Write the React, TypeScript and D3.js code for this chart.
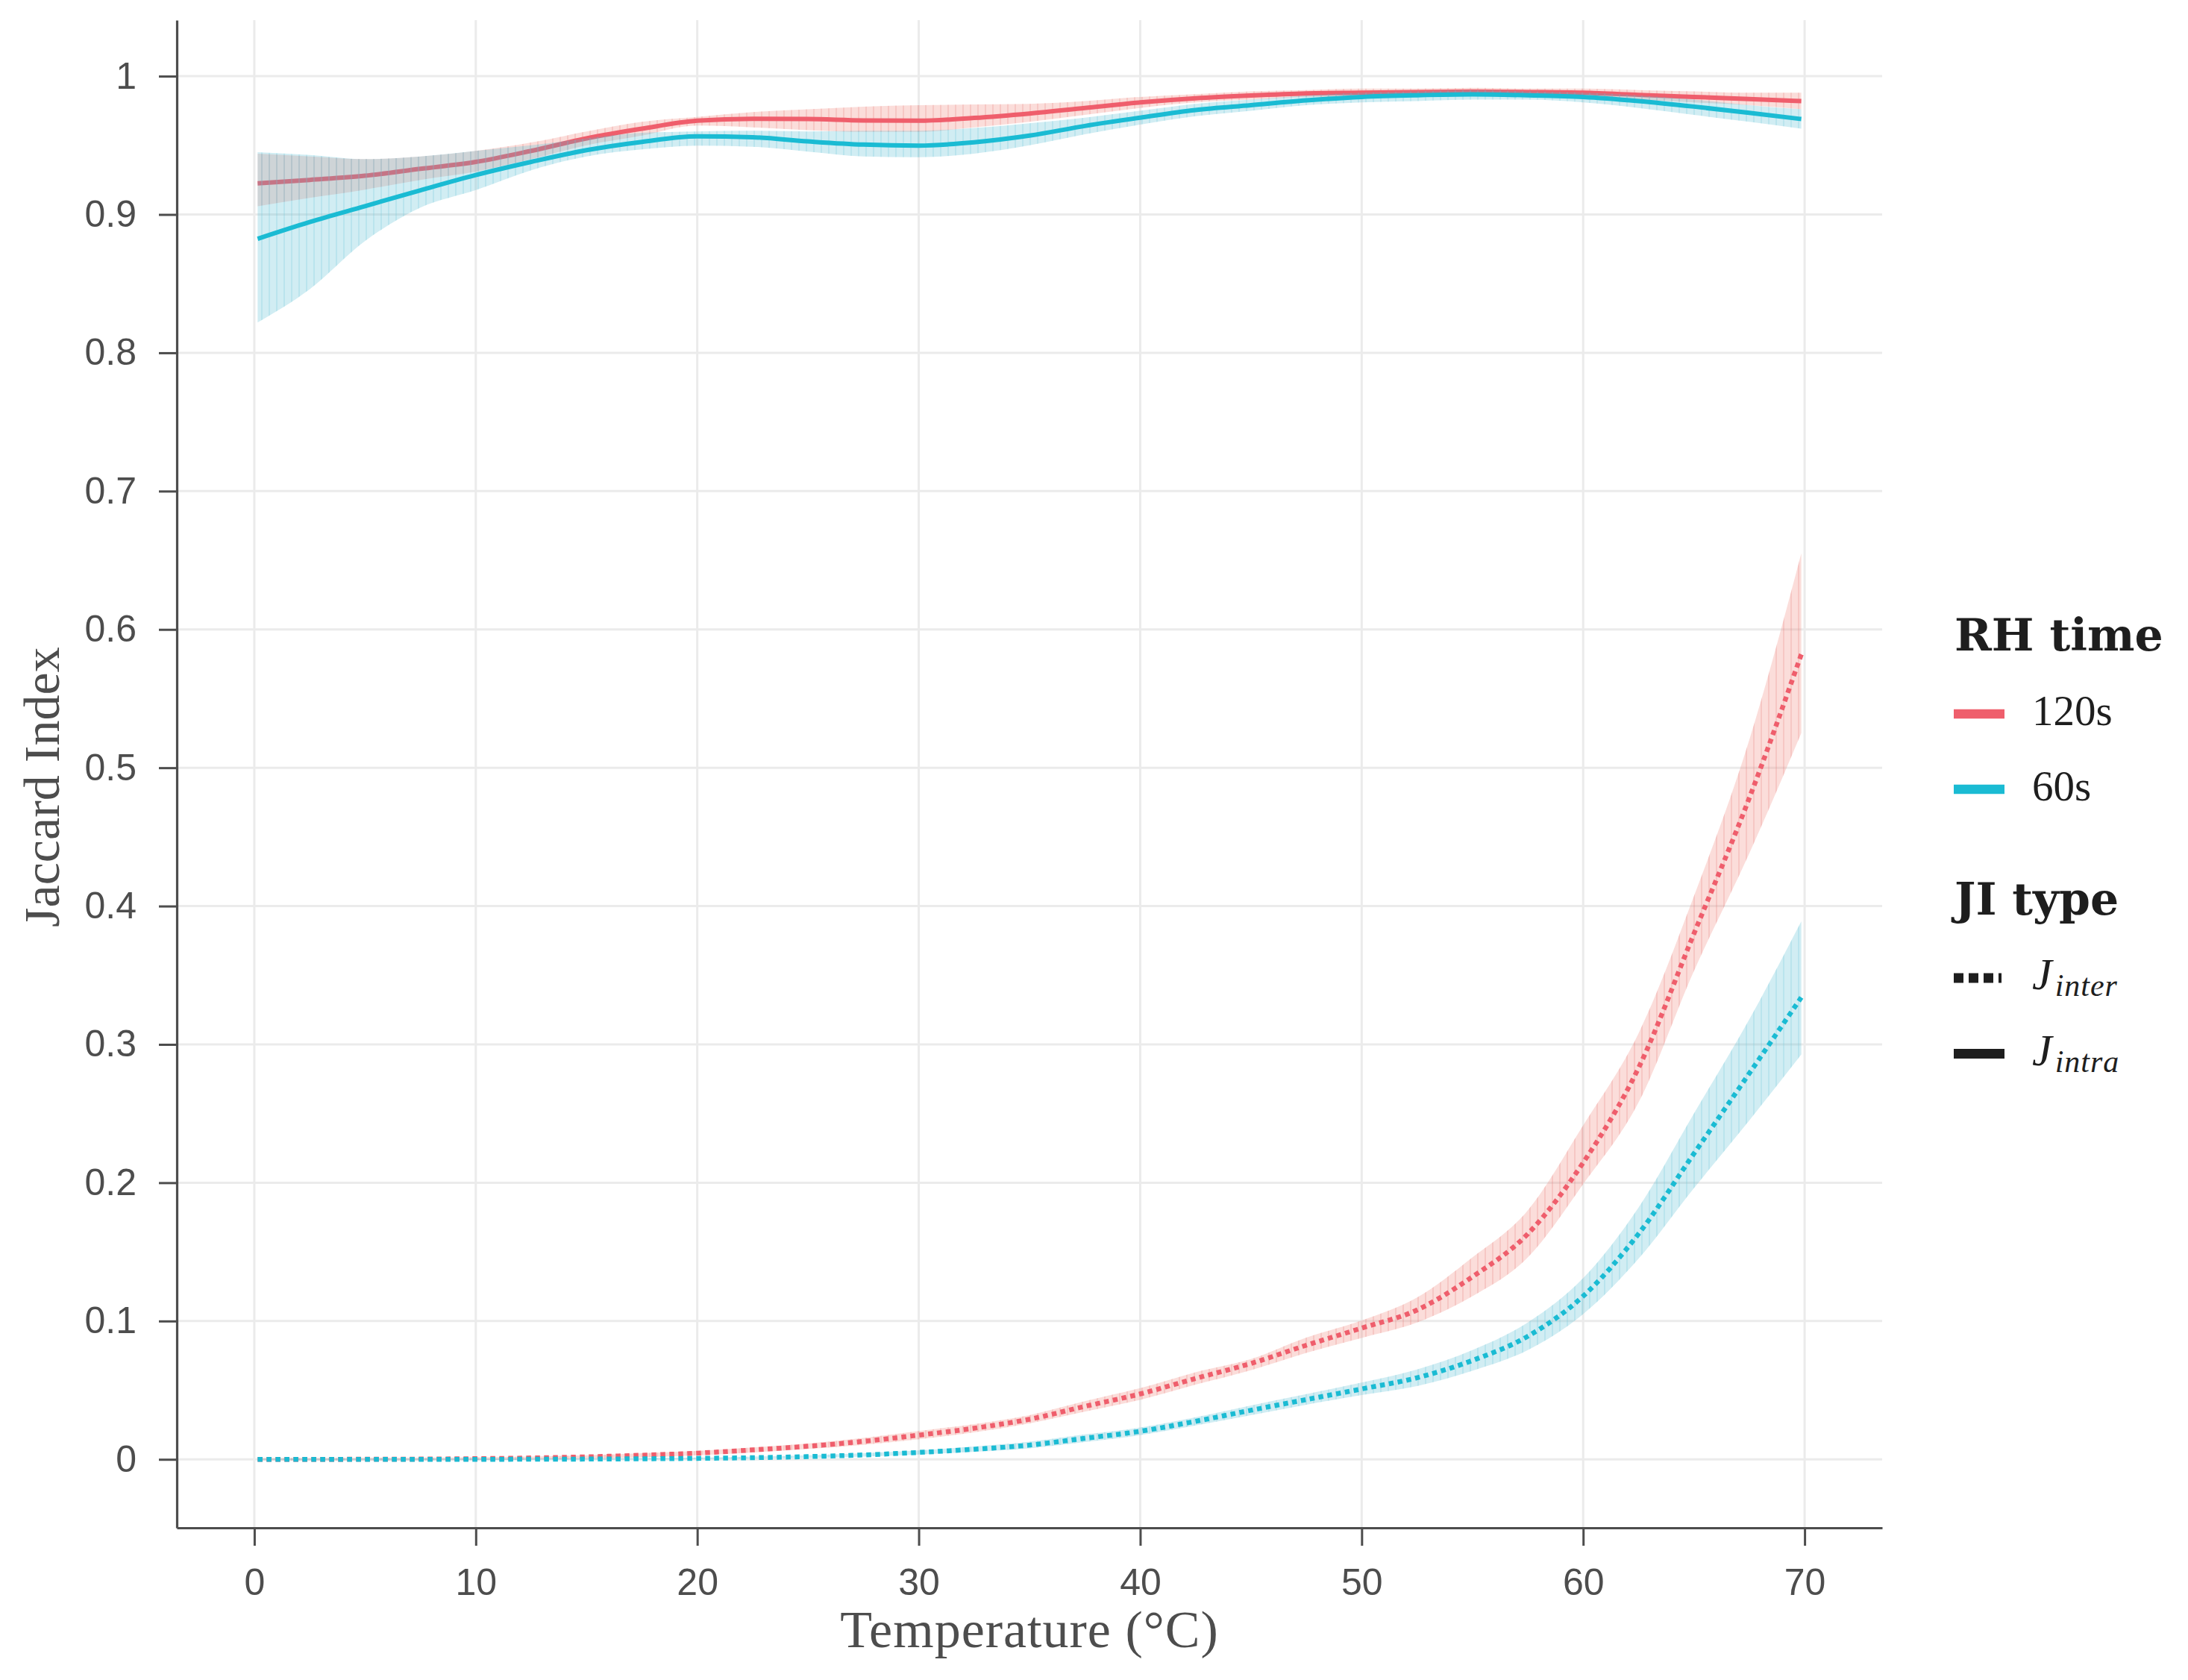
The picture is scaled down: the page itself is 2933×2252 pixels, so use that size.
import { useEffect, useRef } from 'react';
import * as d3 from 'd3';

// temperature grid shared by every fitted curve
const temperature = [
  0.15, 2.5, 5, 7.5, 10, 12.5, 15, 17.5, 20, 22.5, 25, 27.5, 30, 32.5, 35,
  37.5, 40, 42.5, 45, 47.5, 50, 52.5, 55, 57.5, 60, 62.5, 65, 67.5, 69.85,
];

// J_intra, RH 120s
const intra120 = [
  0.9225, 0.925, 0.928, 0.933, 0.938, 0.946, 0.955, 0.962, 0.9678, 0.9692, 0.969, 0.968, 0.9678, 0.9698, 0.973,
  0.977, 0.981, 0.984, 0.986, 0.9875, 0.988, 0.9885, 0.9888, 0.9885, 0.988, 0.9865, 0.985, 0.9835, 0.982,
];
const intra120Low = [
  0.906, 0.912, 0.918, 0.925, 0.931, 0.94, 0.95, 0.957, 0.9643, 0.963, 0.961, 0.9597, 0.9597, 0.963, 0.967,
  0.972, 0.977, 0.981, 0.983, 0.985, 0.985, 0.986, 0.986, 0.986, 0.985, 0.983, 0.981, 0.979, 0.976,
];
const intra120High = [
  0.944, 0.942, 0.94, 0.942, 0.946, 0.952, 0.96, 0.967, 0.9705, 0.974, 0.976, 0.978, 0.979, 0.9795, 0.98,
  0.982, 0.985, 0.987, 0.989, 0.99, 0.991, 0.991, 0.9915, 0.991, 0.991, 0.99, 0.989, 0.988, 0.988,
];

// J_intra, RH 60s
const intra60 = [
  0.8824, 0.8945, 0.906, 0.9175, 0.9285, 0.938, 0.9465, 0.9525, 0.9565, 0.9558, 0.9528, 0.9505, 0.9498, 0.9522, 0.957,
  0.964, 0.97, 0.9755, 0.979, 0.9825, 0.985, 0.9862, 0.9868, 0.9862, 0.985, 0.982, 0.978, 0.9735, 0.969,
];
const intra60Low = [
  0.822, 0.846, 0.8808, 0.905, 0.9177, 0.932, 0.942, 0.947, 0.9498, 0.949, 0.9455, 0.942, 0.9414, 0.944, 0.95,
  0.958, 0.965, 0.971, 0.975, 0.979, 0.981, 0.982, 0.983, 0.983, 0.981, 0.977, 0.972, 0.967, 0.962,
];
const intra60High = [
  0.945, 0.943, 0.94, 0.942, 0.946, 0.95, 0.955, 0.959, 0.96, 0.9605, 0.96, 0.9605, 0.9606, 0.9625, 0.966,
  0.97, 0.975, 0.98, 0.983, 0.986, 0.988, 0.989, 0.99, 0.989, 0.988, 0.986, 0.983, 0.979, 0.976,
];

// J_inter, RH 120s
const inter120 = [
  0, 0, 0.0001, 0.0002, 0.0005, 0.001, 0.0018, 0.003, 0.0045, 0.0068, 0.0095, 0.013, 0.0175, 0.0225, 0.029,
  0.0383, 0.0473, 0.0585, 0.0693, 0.0825, 0.0949, 0.108, 0.132, 0.163, 0.2145, 0.283, 0.38, 0.478, 0.582,
];
const inter120Low = [
  -0.001, -0.001, -0.001, -0.0008, -0.0005, 0, 0.0005, 0.0015, 0.003, 0.005, 0.0075, 0.0105, 0.0145, 0.0195, 0.026,
  0.0345, 0.043, 0.054, 0.0645, 0.077, 0.0878, 0.099, 0.118, 0.146, 0.199, 0.258, 0.353, 0.438, 0.525,
];
const inter120High = [
  0.001, 0.001, 0.0012, 0.0012, 0.0015, 0.002, 0.003, 0.0045, 0.006, 0.0086, 0.0115, 0.0155, 0.0205, 0.0255, 0.032,
  0.042, 0.0515, 0.063, 0.0725, 0.088, 0.1004, 0.117, 0.146, 0.18, 0.2415, 0.308, 0.407, 0.52, 0.655,
];

// J_inter, RH 60s
const inter60 = [
  0, 0, 0, 0, 0, 0.0001, 0.0002, 0.0004, 0.0007, 0.0012, 0.002, 0.0032, 0.005, 0.0073, 0.0103,
  0.0152, 0.0203, 0.0275, 0.0355, 0.0432, 0.0509, 0.059, 0.0715, 0.089, 0.118, 0.163, 0.221, 0.279, 0.334,
];
const inter60Low = [
  -0.0005, -0.0005, -0.0005, -0.0005, -0.0005, -0.0004, -0.0003, -0.0001, 0.0001, 0.0005, 0.001, 0.002, 0.0035, 0.0055, 0.008,
  0.0125, 0.0175, 0.0245, 0.032, 0.0395, 0.0465, 0.053, 0.064, 0.079, 0.105, 0.145, 0.196, 0.245, 0.2927,
];
const inter60High = [
  0.0005, 0.0005, 0.0005, 0.0005, 0.0005, 0.0006, 0.0007, 0.0009, 0.0013, 0.002, 0.003, 0.0045, 0.0065, 0.0093, 0.0128,
  0.018, 0.023, 0.0305, 0.039, 0.0472, 0.0555, 0.065, 0.079, 0.099, 0.131, 0.182, 0.25, 0.318, 0.389,
];

const xTicks = [0, 10, 20, 30, 40, 50, 60, 70];
const yTicks = [0, 0.1, 0.2, 0.3, 0.4, 0.5, 0.6, 0.7, 0.8, 0.9, 1];
const yTickLabels = ['0', '0.1', '0.2', '0.3', '0.4', '0.5', '0.6', '0.7', '0.8', '0.9', '1'];

const rhTimes = ['120s', '60s'];
const jiTypes = ['inter', 'intra'];

export default function App() {
  const svgRef = useRef<SVGSVGElement>(null);

  useEffect(() => {
    document.body.style.margin = '0';
    if (!svgRef.current) return;
    const svg = d3.select(svgRef.current);
    svg.selectAll('*').remove();

    const panel = { left: 237, right: 2523, top: 27, bottom: 2048 };
    const x = d3.scaleLinear().domain([-3.5, 73.5]).range([panel.left, panel.right]);
    const y = d3.scaleLinear().domain([-0.0495, 1.0405]).range([panel.bottom, panel.top]);

    const red = '#EF5E6C';
    const cyan = '#1ABBD3';
    const grey = '#4D4D4D';

    // hatch patterns imitating the striped ribbons
    const defs = svg.append('defs');
    const hatch = (id: string, color: string) => {
      defs.append('pattern')
        .attr('id', id)
        .attr('patternUnits', 'userSpaceOnUse')
        .attr('width', 10)
        .attr('height', 10)
        .append('line')
        .attr('x1', 1).attr('x2', 1).attr('y1', 0).attr('y2', 10)
        .attr('stroke', color)
        .attr('stroke-opacity', 0.3)
        .attr('stroke-width', 1.5);
    };
    hatch('hatch-red', '#E57B7B');
    hatch('hatch-cyan', '#6DC3DA');

    // grid
    const grid = svg.append('g');
    grid.selectAll('.gx').data(xTicks).enter().append('line')
      .attr('x1', d => x(d)).attr('x2', d => x(d))
      .attr('y1', panel.top).attr('y2', panel.bottom)
      .attr('stroke', '#EBEBEB').attr('stroke-width', 3);
    grid.selectAll('.gy').data(yTicks).enter().append('line')
      .attr('x1', panel.left).attr('x2', panel.right)
      .attr('y1', d => y(d)).attr('y2', d => y(d))
      .attr('stroke', '#EBEBEB').attr('stroke-width', 3);

    const series = [
      { time: '120s', color: red, band: '#F07A70', hatchId: 'hatch-red',
        inter: [inter120, inter120Low, inter120High], intra: [intra120, intra120Low, intra120High] },
      { time: '60s', color: cyan, band: '#4FB8D0', hatchId: 'hatch-cyan',
        inter: [inter60, inter60Low, inter60High], intra: [intra60, intra60Low, intra60High] },
    ];

    const area = d3.area<number>()
      .x((_, i) => x(temperature[i]))
      .curve(d3.curveMonotoneX);
    const line = d3.line<number>()
      .x((_, i) => x(temperature[i]))
      .y(d => y(d))
      .curve(d3.curveMonotoneX);

    const marks = svg.append('g');
    series.forEach(s => {
      ['inter', 'intra'].forEach(kind => {
        const [mid, low, high] = (s as any)[kind] as number[][];
        const a = area.y0((_, i) => y(low[i])).y1((_, i) => y(high[i]));
        const ribbon = a(mid) as string;
        marks.append('path').attr('d', ribbon).attr('fill', s.band).attr('fill-opacity', 0.26);
        marks.append('path').attr('d', ribbon).attr('fill', `url(#${s.hatchId})`);
      });
      marks.append('path')
        .attr('d', line(s.inter[0]) as string)
        .attr('fill', 'none').attr('stroke', s.color).attr('stroke-width', 6.5)
        .attr('stroke-dasharray', '6.5 5.5');
      marks.append('path')
        .attr('d', line(s.intra[0]) as string)
        .attr('fill', 'none').attr('stroke', s.color).attr('stroke-width', 6);
    });

    // axes
    const xAxis = svg.append('g')
      .attr('transform', `translate(0,${panel.bottom})`)
      .call(d3.axisBottom(x).tickValues(xTicks).tickSize(24).tickSizeOuter(0).tickPadding(30).tickFormat(d3.format('d')));
    const yAxis = svg.append('g')
      .attr('transform', `translate(${panel.left},0)`)
      .call(d3.axisLeft(y).tickValues(yTicks).tickSize(24).tickSizeOuter(0).tickPadding(30)
        .tickFormat((_, i) => yTickLabels[i]));
    [xAxis, yAxis].forEach(ax => {
      ax.select('.domain').attr('stroke', grey).attr('stroke-width', 3.2);
      ax.selectAll('.tick line').attr('stroke', grey).attr('stroke-width', 3);
      ax.selectAll('.tick text')
        .attr('fill', grey)
        .style('font-family', '"Liberation Sans", Arial, sans-serif')
        .style('font-size', '50px');
    });

    // axis titles
    svg.append('text')
      .attr('x', (panel.left + panel.right) / 2)
      .attr('y', 2208)
      .attr('text-anchor', 'middle')
      .attr('fill', grey)
      .style('font-family', '"Liberation Serif", serif')
      .style('font-size', '70px')
      .style('letter-spacing', '1px')
      .text('Temperature (°C)');
    svg.append('text')
      .attr('transform', 'translate(79,1243) rotate(-90)')
      .attr('text-anchor', 'start')
      .attr('fill', grey)
      .style('font-family', '"Liberation Serif", serif')
      .style('font-size', '68px')
      .text('Jaccard Index');

    // legend
    const legend = svg.append('g');
    const ink = '#1E1E1E';
    const keyX0 = 2619;
    const keyX1 = 2687;
    const labelX = 2724;

    legend.append('text')
      .attr('x', 2620).attr('y', 872)
      .attr('fill', ink)
      .style('font-family', '"DejaVu Serif", serif')
      .style('font-weight', 'bold')
      .style('font-size', '60px')
      .text('RH time');

    rhTimes.forEach((t, i) => {
      const cy = 957 + i * 101;
      legend.append('line')
        .attr('x1', keyX0).attr('x2', keyX1).attr('y1', cy).attr('y2', cy)
        .attr('stroke', series[i].color).attr('stroke-width', 12.5);
      legend.append('text')
        .attr('x', labelX).attr('y', cy + 15)
        .attr('fill', ink)
        .style('font-family', '"Liberation Serif", serif')
        .style('font-size', '57px')
        .text(t);
    });

    legend.append('text')
      .attr('x', 2620).attr('y', 1226)
      .attr('fill', ink)
      .style('font-family', '"DejaVu Serif", serif')
      .style('font-weight', 'bold')
      .style('font-size', '60px')
      .text('JI type');

    jiTypes.forEach((t, i) => {
      const cy = 1311 + i * 101.5;
      legend.append('line')
        .attr('x1', keyX0).attr('x2', i === 0 ? 2683 : keyX1).attr('y1', cy).attr('y2', cy)
        .attr('stroke', ink).attr('stroke-width', 13)
        .attr('stroke-dasharray', i === 0 ? '13 7' : null);
      const label = legend.append('text')
        .attr('x', labelX).attr('y', cy + 15)
        .attr('fill', ink)
        .style('font-family', '"Liberation Serif", serif')
        .style('font-style', 'italic');
      label.append('tspan').style('font-size', '60px').text('J');
      label.append('tspan')
        .attr('dx', 4).attr('dy', 9)
        .style('font-size', '42px')
        .style('letter-spacing', '1px')
        .text(t);
    });
  }, []);

  return <svg ref={svgRef} width={2933} height={2252} style={{ display: 'block', background: '#fff' }} />;
}
